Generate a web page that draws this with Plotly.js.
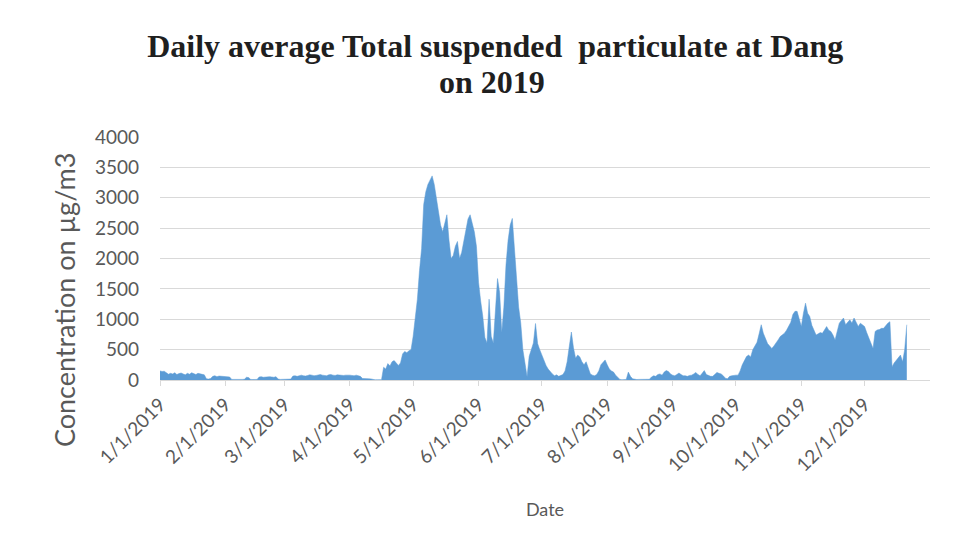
<!DOCTYPE html>
<html>
<head>
<meta charset="utf-8">
<script src="https://cdn.plot.ly/plotly-3.0.1.min.js"></script>
<style>
  html, body { margin: 0; padding: 0; background: #ffffff; }
  #chart { width: 969px; height: 552px; }
</style>
</head>
<body>
<div id="chart"></div>
<script>
// Daily average TSP (µg/m3) at Dang, 2019 — one value per day
const year = 2019;
const monthNumbers = [1, 2, 3, 4, 5, 6, 7, 8, 9, 10, 11, 12];
const jan = [150,140,145,120,95,110,100,120,90,105,115,100,85,110,95,120,105,90,110,100,95,85,20,15,25,60,70,55,65,60,55];
const feb = [60,55,50,10,8,12,10,8,10,12,45,40,10,8,12,10,50,55,45,50,60,55,50,45,55,15,10,12];
const mar = [15,10,20,15,65,70,60,75,80,70,65,75,85,80,70,75,85,90,80,75,70,85,90,80,75,85,80,70,75,80,85];
const apr = [80,75,70,80,75,60,25,20,15,20,18,5,3,5,4,6,210,180,270,230,300,320,280,240,280,430,470,450,480,500];
const may = [720,1000,1330,1800,2160,2890,3100,3220,3300,3360,3220,3000,2800,2550,2440,2600,2720,2300,2000,2050,2200,2280,2000,2100,2300,2440,2650,2720,2550,2440,2200];
const jun = [1610,1300,1050,700,610,1330,720,610,1200,1670,1440,780,1200,1890,2300,2550,2660,2160,1700,1200,940,500,280,55,390,500,610,930,600,500];
const jul = [410,300,240,180,130,100,70,85,60,80,90,150,300,550,790,530,360,410,380,300,250,300,200,100,80,70,90,150,250,300,330];
const aug = [250,180,150,130,80,40,10,5,10,10,130,60,20,10,8,10,12,10,8,10,12,50,70,60,90,100,80,130,155,140,100];
const sep = [80,70,90,115,90,70,70,60,75,80,100,125,90,70,110,155,90,70,60,60,90,125,110,100,70,30,20,60,70,80];
const oct = [80,80,150,250,320,385,410,380,500,560,620,760,910,770,680,600,560,520,560,620,660,715,740,770,820,880,950,1080,1130,1130,1000];
const nov = [880,1100,1265,1100,1045,900,825,740,760,780,770,820,880,820,800,740,660,800,935,980,1020,910,950,990,940,1020,950,880,935,900];
const dec = [880,780,690,600,520,800,825,830,850,850,900,935,960,220,280,330,380,410,300,500,910];

const titleLine1 = 'Daily average Total suspended  particulate at Dang';
const titleLine2 = 'on 2019';
const xTitle = 'Date';
const yTitle = 'Concentration on µg/m3';

const months = [jan, feb, mar, apr, may, jun, jul, aug, sep, oct, nov, dec];
const dates = [];
const values = [];
const monthTicks = [];
months.forEach((arr, mi) => {
  const mm = String(monthNumbers[mi]).padStart(2, '0');
  monthTicks.push(year + '-' + mm + '-01');
  arr.forEach((v, di) => {
    dates.push(year + '-' + mm + '-' + String(di + 1).padStart(2, '0'));
    values.push(v);
  });
});

const trace = {
  type: 'scatter',
  mode: 'lines',
  x: dates,
  y: values,
  fill: 'tozeroy',
  fillcolor: '#5B9BD5',
  line: { color: '#5B9BD5', width: 0.5, shape: 'linear' },
  hoverinfo: 'x+y'
};

const gray = '#595959';
const titleFont = { family: '"Liberation Serif", serif', size: 32, color: '#1f1f1f', weight: 'bold' };
const layout = {
  width: 969,
  height: 552,
  paper_bgcolor: '#ffffff',
  plot_bgcolor: '#ffffff',
  margin: { l: 160, r: 39, t: 137, b: 172 },
  showlegend: false,
  font: { family: 'Lato, "Open Sans", sans-serif', color: gray },
  title: {
    text: titleLine1,
    font: titleFont,
    xref: 'container',
    yref: 'container',
    x: 0.511,
    xanchor: 'center',
    y: 0.917,
    yanchor: 'middle'
  },
  annotations: [{
    text: titleLine2,
    font: titleFont,
    xref: 'paper',
    yref: 'paper',
    x: 0.431,
    y: 1.225,
    xanchor: 'center',
    yanchor: 'middle',
    showarrow: false
  }, {
    text: yTitle,
    font: { size: 27, color: gray },
    textangle: -90,
    xref: 'paper',
    yref: 'paper',
    x: -0.123,
    y: 0.33,
    xanchor: 'center',
    yanchor: 'middle',
    showarrow: false
  }],
  xaxis: {
    type: 'date',
    range: ['2019-01-01', '2020-01-01'],
    tickvals: monthTicks,
    tickformat: '%-m/%-d/%Y',
    tickangle: -45,
    tickfont: { size: 19, color: gray },
    ticks: 'outside',
    ticklen: 5,
    tickcolor: '#d9d9d9',
    showline: true,
    linecolor: '#d9d9d9',
    linewidth: 1,
    showgrid: false,
    zeroline: false,
    title: { text: xTitle, font: { size: 18, color: gray }, standoff: 28 }
  },
  yaxis: {
    range: [0, 4000],
    dtick: 500,
    tickfont: { size: 19, color: gray },
    ticklabelstandoff: 20,
    showgrid: true,
    gridcolor: '#d9d9d9',
    gridwidth: 1,
    zeroline: false,
    showline: false,
    ticks: ''
  }
};

Plotly.newPlot('chart', [trace], layout, { displayModeBar: false, staticPlot: true });
</script>
</body>
</html>
